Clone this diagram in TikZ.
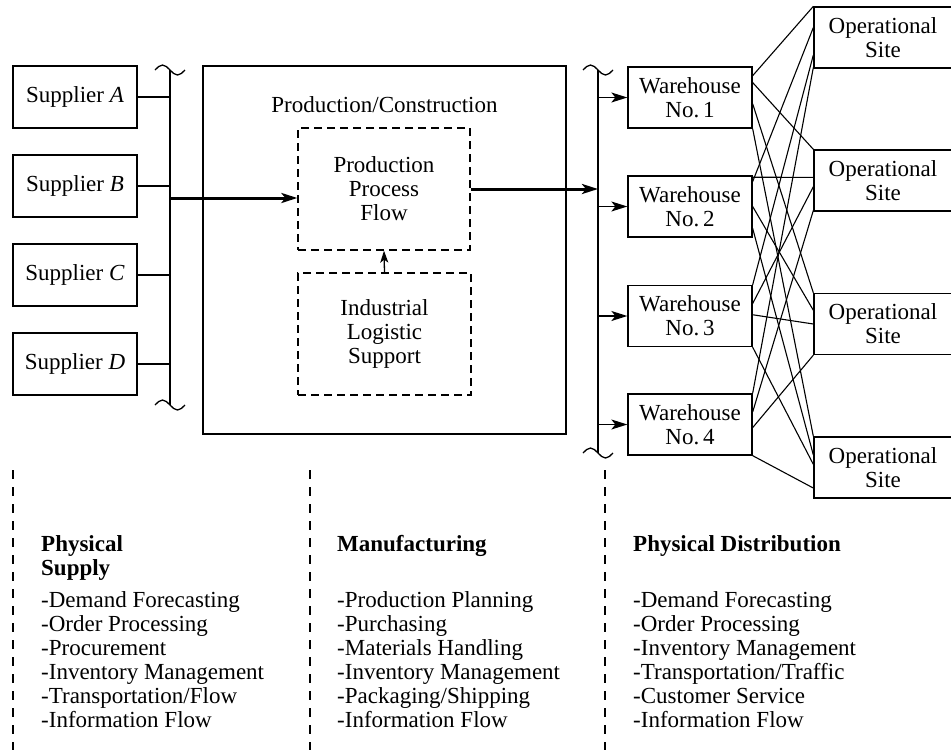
\documentclass[tikz,border=0pt]{standalone}
\usepackage{fontspec}
\setmainfont{Liberation Serif}
\usetikzlibrary{arrows.meta,calc}
\newcommand\bodyfont{\fontsize{23}{24}\selectfont}
\begin{document}
\begin{tikzpicture}[x=1pt,y=-1pt,
  every node/.style={font=\bodyfont},
  ln/.style={line width=1.3pt},
  thin ln/.style={line width=1.1pt},
  box/.style={draw, line width=1.3pt, rectangle, inner sep=0pt, align=center},
  dbox/.style={box, dash pattern=on 8pt off 5pt},
  thk/.style={line width=3pt},
  tip/.style={-{Stealth[length=16pt,width=10pt,inset=4pt]}},
  smalltip/.style={-{Stealth[length=12pt,width=8pt,inset=3pt]}},
  sepline/.style={line width=1.2pt, dash pattern=on 9pt off 8pt},
  txt/.style={anchor=base west, inner sep=0pt}]
\useasboundingbox (0,0) rectangle (951,750);

% suppliers
\foreach \n/\l/\y in {sA/A/97, sB/B/186, sC/C/275, sD/D/364}
  \node[box, minimum width=124pt, minimum height=62pt] (\n) at (75,\y) {Supplier \textit{\l}};

% production block
\node[box, minimum width=363pt, minimum height=368pt] (prod) at (384.5,250) {};
\node (prodt) at (384.5,105) {Production/Construction};
\node[dbox, minimum width=172pt, minimum height=122pt] (pflow) at (384,189) {Production\\Process\\Flow};
\node[dbox, minimum width=173pt, minimum height=122pt] (ils) at (384.5,334) {Industrial\\Logistic\\Support};

% warehouses
\foreach \i/\y in {1/97.5,2/206.5,3/316,4/424.5}
  \node[box, minimum width=124pt, minimum height=61pt] (w\i) at (690,\y) {Warehouse\\No.\,\i};

% operational sites
\foreach \j/\y in {1/37.5,2/180.5,3/324,4/467.5}
  \node[box, minimum width=138pt, minimum height=61pt] (o\j) at (883,\y) {Operational\\Site};

% buses
\coordinate (bLt) at (170,70);
\coordinate (bLb) at (170,405);
\coordinate (bRt) at (598,70);
\coordinate (bRb) at (598,453);
\draw[ln] (bLt) -- (bLb);
\draw[ln] (bRt) -- (bRb);
\foreach \c in {bLt,bLb,bRt,bRb}
  \draw[ln] ($(\c)+(-15,0)$) sin ++(7.5,-5) cos ++(7.5,5) sin ++(7.5,5) cos ++(7.5,-5);

% supplier connectors
\foreach \n in {sA,sB,sC,sD}
  \draw[ln] (\n.east) -- (\n.east -| bLt);

% main flow
\coordinate (inL) at (170,198);
\draw[thk,tip] (inL) -- (inL -| pflow.west);
\draw[thk,tip] (pflow.east) -- (pflow.east -| bRt);
\draw[ln,smalltip] (ils.north) -- (pflow.south);
\foreach \i in {1,...,4}
  \draw[ln,tip] (w\i.west -| bRt) -- (w\i.west);

% warehouse to site network
\foreach \i/\j/\a/\b in {1/1/0.15/0, 1/2/0.26/0, 1/3/0.6/0, 1/4/1/0,
  2/1/0.1/0.34, 2/2/0.03/0.45, 2/3/0.5/0.28, 2/4/0.85/0.3,
  3/1/0/0.78, 3/2/0.3/0.6, 3/3/0.48/0.5, 3/4/1/0.45,
  4/1/0/0.98, 4/2/0.3/0.98, 4/3/0.55/1, 4/4/1/0.83}
  \draw[thin ln] ($(w\i.north east)!\a!(w\i.south east)$) -- ($(o\j.north west)!\b!(o\j.south west)$);

% separators
\foreach \x/\n in {13/d1,310/d2,605/d3} {
  \coordinate (\n t) at (\x,470);
  \coordinate (\n b) at (\x,750);
  \draw[sepline] (\n t) -- (\n b);
}

% headings
\node[txt,font=\bodyfont\bfseries] (h1a) at (41,551) {Physical};
\node[txt,font=\bodyfont\bfseries] (h1b) at (41,575) {Supply};
\node[txt,font=\bodyfont\bfseries] (h2) at (337,551) {Manufacturing};
\node[txt,font=\bodyfont\bfseries] (h3) at (633,551) {Physical Distribution};

% lists
\foreach \t [count=\k] in {-Demand Forecasting,-Order Processing,-Procurement,-Inventory Management,-Transportation/Flow,-Information Flow}
  \node[txt] (a\k) at (41,{583+24*\k}) {\t};
\foreach \t [count=\k] in {-Production Planning,-Purchasing,-Materials Handling,-Inventory Management,-Packaging/Shipping,-Information Flow}
  \node[txt] (m\k) at (337,{583+24*\k}) {\t};
\foreach \t [count=\k] in {-Demand Forecasting,-Order Processing,-Inventory Management,-Transportation/Traffic,-Customer Service,-Information Flow}
  \node[txt] (p\k) at (633,{583+24*\k}) {\t};
\end{tikzpicture}
\end{document}
